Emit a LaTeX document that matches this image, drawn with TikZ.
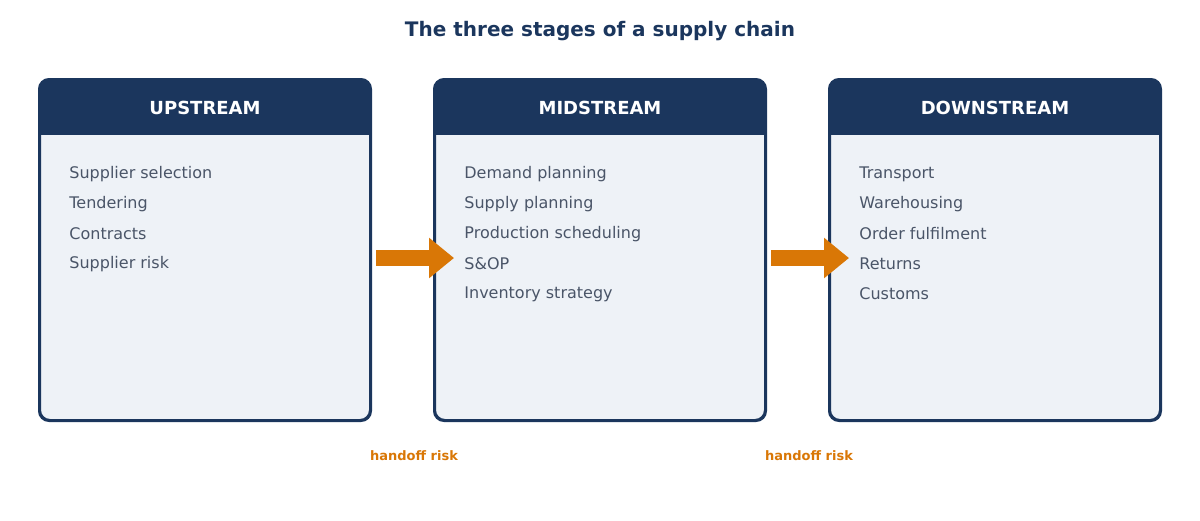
\documentclass[tikz,border=0pt]{standalone}
\usepackage{fontspec}
\setmainfont{DejaVu Sans}
\usetikzlibrary{positioning,calc,arrows.meta}
\definecolor{navy}{HTML}{1B365D}
\definecolor{boxfill}{HTML}{EEF2F7}
\definecolor{itemtext}{HTML}{4A5568}
\definecolor{risk}{HTML}{D97706}
\tikzset{
  stage/.style={draw=navy, line width=1pt, fill=boxfill, rounded corners=5pt,
    minimum width=165pt, minimum height=170pt, inner sep=0pt},
  head/.style={text=white, font=\bfseries\fontsize{9}{11}\selectfont},
  item/.style={text=itemtext, font=\fontsize{8}{10}\selectfont, anchor=west, inner sep=0pt},
  flow/.style={risk, line width=8pt, -{Triangle[length=12.5pt,width=19.5pt]}},
  risklabel/.style={text=risk, font=\bfseries\fontsize{6.5}{8}\selectfont}
}
\begin{document}
\begin{tikzpicture}[x=0.5pt, y=-0.5pt]
  \useasboundingbox (0,0) rectangle (1200,520);
  \node[text=navy, font=\bfseries\fontsize{10}{12}\selectfont] (title) at (600,31) {The three stages of a supply chain};
  % the three boxes
  \foreach \name/\cx/\label in {up/205/UPSTREAM, mid/600/MIDSTREAM, down/995/DOWNSTREAM} {
    \node[stage] (\name) at (\cx,250) {};
    \begin{scope}
      \clip[rounded corners=5pt] (\name.north west) rectangle (\name.south east);
      \fill[navy] (\name.north west) rectangle ($(\name.north east)+(0,56)$);
    \end{scope}
    \draw[navy, line width=1pt, rounded corners=5pt] (\name.north west) rectangle (\name.south east);
    \node[head] (\name-head) at ($(\name.north)+(0,29)$) {\label};
  }
  % items
  \foreach \txt [count=\i] in {Supplier selection, Tendering, Contracts, Supplier risk}
    \node[item] (up-\i) at ($(up.north west)+(30,95+30*\i-30)$) {\txt};
  \foreach \txt [count=\i] in {Demand planning, Supply planning, Production scheduling, S\&OP, Inventory strategy}
    \node[item] (mid-\i) at ($(mid.north west)+(30,95+30*\i-30)$) {\txt};
  \foreach \txt [count=\i] in {Transport, Warehousing, Order fulfilment, Returns, Customs}
    \node[item] (down-\i) at ($(down.north west)+(30,95+30*\i-30)$) {\txt};
  % handoffs
  \coordinate (a1s) at ($(up.east)+(5,8)$);
  \coordinate (a1e) at ($(mid.west)+(20,8)$);
  \coordinate (a2s) at ($(mid.east)+(5,8)$);
  \coordinate (a2e) at ($(down.west)+(20,8)$);
  \draw[flow] (a1s) -- (a1e);
  \draw[flow] (a2s) -- (a2e);
  \node[risklabel] (r1) at (414,456) {handoff risk};
  \node[risklabel] (r2) at (809,456) {handoff risk};
\end{tikzpicture}
\end{document}
